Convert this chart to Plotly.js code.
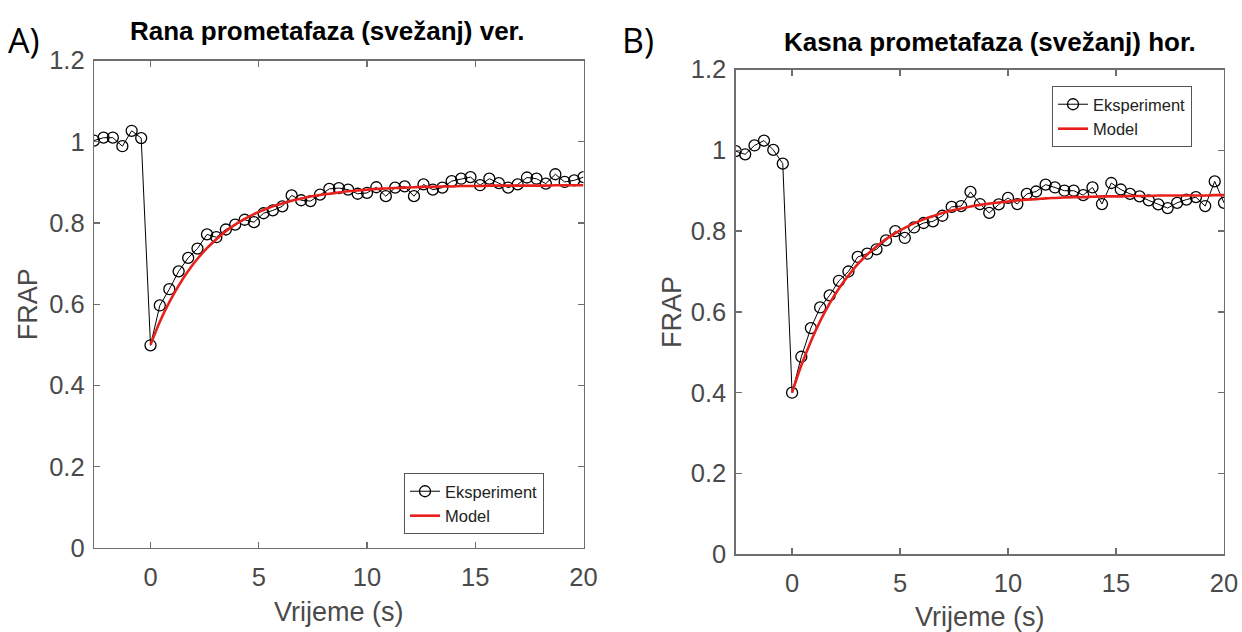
<!DOCTYPE html>
<html>
<head>
<meta charset="utf-8">
<script src="https://cdn.plot.ly/plotly-3.0.1.min.js"></script>
<style>
  html, body { margin: 0; padding: 0; background: #ffffff; }
  #chart { width: 1242px; height: 632px; }
</style>
</head>
<body>
<div id="chart"></div>
<script>
// Time points (s): 6 pre-bleach frames, bleach at 0, then recovery
const timeExp = [-2.61, -2.17, -1.74, -1.30, -0.87, -0.43,
  0.00, 0.43, 0.87, 1.30, 1.74, 2.17, 2.61, 3.04, 3.48, 3.91, 4.35, 4.78, 5.22, 5.65,
  6.09, 6.52, 6.96, 7.39, 7.83, 8.26, 8.70, 9.13, 9.57, 10.00, 10.43, 10.87, 11.30,
  11.74, 12.17, 12.61, 13.04, 13.48, 13.91, 14.35, 14.78, 15.22, 15.65, 16.09, 16.52,
  16.96, 17.39, 17.83, 18.26, 18.70, 19.13, 19.57, 20.00];
const timeModel = [0.00, 0.43, 0.87, 1.30, 1.74, 2.17, 2.61, 3.04, 3.48, 3.91, 4.35, 4.78,
  5.22, 5.65, 6.09, 6.52, 6.96, 7.39, 7.83, 8.26, 8.70, 9.13, 9.57, 10.00, 10.43, 10.87,
  11.30, 11.74, 12.17, 12.61, 13.04, 13.48, 13.91, 14.35, 14.78, 15.22, 15.65, 16.09,
  16.52, 16.96, 17.39, 17.83, 18.26, 18.70, 19.13, 19.57, 20.00];

// Panel A: Rana prometafaza (svežanj) ver.
const frapA = [1.003, 1.010, 1.010, 0.989, 1.027, 1.009,
  0.499, 0.597, 0.637, 0.681, 0.714, 0.737, 0.772, 0.765, 0.784, 0.796, 0.808, 0.802,
  0.824, 0.831, 0.841, 0.868, 0.856, 0.854, 0.870, 0.884, 0.886, 0.882,
  0.872, 0.874, 0.888, 0.866, 0.887, 0.890, 0.866, 0.895, 0.882, 0.887, 0.903, 0.909,
  0.913, 0.893, 0.909, 0.898, 0.887, 0.895, 0.912, 0.909, 0.897, 0.920, 0.901, 0.905, 0.913];
const modelA = [0.500, 0.557, 0.605, 0.646, 0.682, 0.712, 0.738, 0.760, 0.780, 0.796,
  0.810, 0.822, 0.832, 0.841, 0.848, 0.855, 0.860, 0.865, 0.869, 0.872, 0.875, 0.878,
  0.880, 0.882, 0.884, 0.885, 0.886, 0.887, 0.888, 0.889, 0.889, 0.890, 0.890, 0.891,
  0.891, 0.891, 0.892, 0.892, 0.892, 0.892, 0.892, 0.892, 0.892, 0.893, 0.893, 0.893, 0.893];

// Panel B: Kasna prometafaza (svežanj) hor.
const frapB = [0.998, 0.990, 1.012, 1.024, 1.001, 0.967,
  0.400, 0.489, 0.560, 0.611, 0.641, 0.677, 0.700, 0.736, 0.744, 0.755, 0.777, 0.800,
  0.783, 0.809, 0.820, 0.824, 0.838, 0.860, 0.862, 0.897, 0.867, 0.845, 0.866, 0.882,
  0.867, 0.892, 0.898, 0.915, 0.908, 0.900, 0.900, 0.889, 0.908, 0.867, 0.919, 0.903,
  0.892, 0.886, 0.876, 0.866, 0.857, 0.870, 0.878, 0.884, 0.862, 0.923, 0.870];
const modelB = [0.400, 0.468, 0.527, 0.577, 0.621, 0.658, 0.690, 0.718, 0.742, 0.762,
  0.780, 0.795, 0.808, 0.819, 0.829, 0.837, 0.845, 0.851, 0.856, 0.861, 0.865, 0.868,
  0.871, 0.873, 0.876, 0.878, 0.879, 0.881, 0.882, 0.883, 0.884, 0.884, 0.885, 0.886,
  0.886, 0.886, 0.887, 0.887, 0.887, 0.888, 0.888, 0.888, 0.888, 0.888, 0.888, 0.889, 0.889];

const seriesNames = ['Eksperiment', 'Model'];
const titleA = 'Rana prometafaza (svežanj) ver.';
const titleB = 'Kasna prometafaza (svežanj) hor.';
const xTitle = 'Vrijeme (s)';
const yTitle = 'FRAP';
const xTicks = [0, 5, 10, 15, 20];
const yTicks = [0, 0.2, 0.4, 0.6, 0.8, 1, 1.2];

const W = 1242, H = 632;
const FONT = '"Liberation Sans", Arial, Helvetica, sans-serif';
const expStyle = {
  mode: 'lines+markers',
  line: { color: '#000000', width: 1 },
  marker: { symbol: 'circle-open', size: 11, color: '#000000', line: { width: 1.3, color: '#000000' } }
};
const modelStyle = { mode: 'lines', line: { color: '#e8201c', width: 2.6, shape: 'spline' } };

const traces = [
  Object.assign({ x: timeExp, y: frapA, name: seriesNames[0], xaxis: 'x', yaxis: 'y', legend: 'legend' }, expStyle),
  Object.assign({ x: timeModel, y: modelA, name: seriesNames[1], xaxis: 'x', yaxis: 'y', legend: 'legend' }, modelStyle),
  Object.assign({ x: timeExp, y: frapB, name: seriesNames[0], xaxis: 'x2', yaxis: 'y2', legend: 'legend2' }, expStyle),
  Object.assign({ x: timeModel, y: modelB, name: seriesNames[1], xaxis: 'x2', yaxis: 'y2', legend: 'legend2' }, modelStyle)
];

function xAxis(domain, anchor, titleGap) {
  return {
    domain: domain, anchor: anchor, range: [-2.61, 20], tickvals: xTicks,
    showgrid: false, zeroline: false, showline: true, linecolor: '#6e6e6e', linewidth: 1.3,
    mirror: 'ticks', ticks: 'inside', ticklen: 6, tickcolor: '#6e6e6e', tickwidth: 1.3,
    ticklabelstandoff: 6,
    tickfont: { family: FONT, size: 25.5, color: '#4a4a4a' },
    title: { text: xTitle, font: { family: FONT, size: 27, color: '#4a4a4a' }, standoff: titleGap }
  };
}
function yAxis(domain, anchor, titleGap) {
  return {
    domain: domain, anchor: anchor, range: [0, 1.2], tickvals: yTicks,
    showgrid: false, zeroline: false, showline: true, linecolor: '#6e6e6e', linewidth: 1.3,
    mirror: 'ticks', ticks: 'inside', ticklen: 6, tickcolor: '#6e6e6e', tickwidth: 1.3,
    ticklabelstandoff: 3,
    tickfont: { family: FONT, size: 25.5, color: '#4a4a4a' },
    title: { text: yTitle, font: { family: FONT, size: 27, color: '#4a4a4a' }, standoff: titleGap }
  };
}

const legendStyle = {
  bgcolor: '#ffffff', bordercolor: '#555555', borderwidth: 1,
  font: { family: FONT, size: 16.5, color: '#222222' },
  xanchor: 'left', yanchor: 'top', tracegroupgap: 0, itemwidth: 30
};

const layout = {
  width: W, height: H,
  margin: { l: 0, r: 0, t: 0, b: 0 },
  paper_bgcolor: '#ffffff', plot_bgcolor: '#ffffff',
  showlegend: true,
  xaxis: xAxis([94 / W, 583.5 / W], 'y', 12),
  yaxis: yAxis([1 - 548 / H, 1 - 60.5 / H], 'x', 3),
  xaxis2: xAxis([735.7 / W, 1224 / W], 'y2', 14),
  yaxis2: yAxis([1 - 554.3 / H, 1 - 69.5 / H], 'x2', 1),
  legend: Object.assign({ x: 404 / W, y: 1 - 473 / H }, legendStyle),
  legend2: Object.assign({ x: 1052 / W, y: 1 - 86 / H }, legendStyle),
  annotations: [
    { text: '<b>' + titleA + '</b>', xref: 'paper', yref: 'paper', x: 327 / W, y: 1 - 31 / H,
      xanchor: 'center', yanchor: 'middle', showarrow: false,
      font: { family: FONT, size: 26, color: '#000000' } },
    { text: '<b>' + titleB + '</b>', xref: 'paper', yref: 'paper', x: 990 / W, y: 1 - 42 / H,
      xanchor: 'center', yanchor: 'middle', showarrow: false,
      font: { family: FONT, size: 26, color: '#000000' } },
    { text: 'A)', xref: 'paper', yref: 'paper', x: 6 / W, y: 1 - 40 / H,
      xanchor: 'left', yanchor: 'middle', showarrow: false,
      font: { family: '"Open Sans", sans-serif', size: 34, color: '#000000' } },
    { text: 'B)', xref: 'paper', yref: 'paper', x: 620 / W, y: 1 - 40 / H,
      xanchor: 'left', yanchor: 'middle', showarrow: false,
      font: { family: '"Open Sans", sans-serif', size: 34, color: '#000000' } }
  ]
};

Plotly.newPlot('chart', traces, layout, { staticPlot: true, displayModeBar: false });
</script>
</body>
</html>
